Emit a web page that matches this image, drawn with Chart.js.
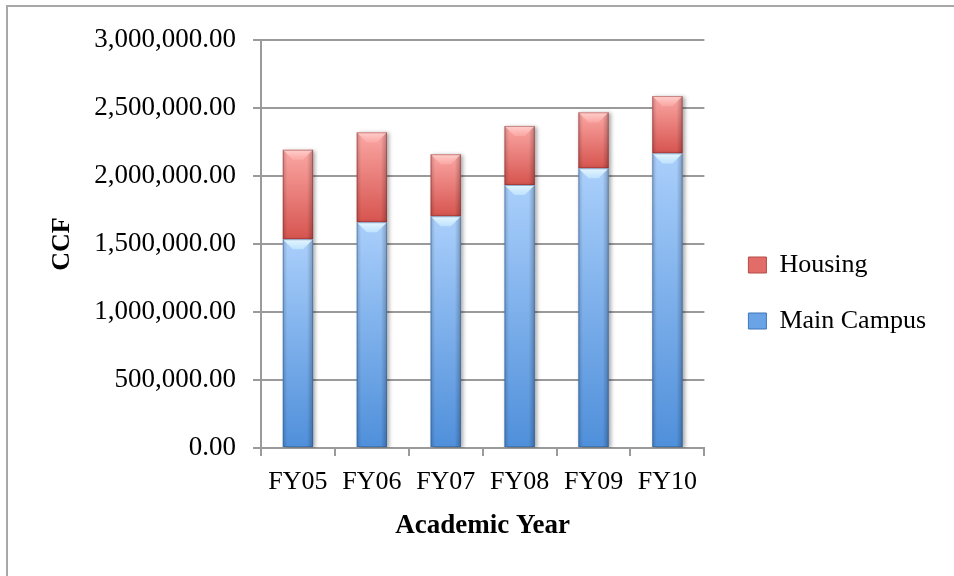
<!DOCTYPE html>
<html lang="en">
<head>
  <meta charset="UTF-8">
  <title>CCF by Academic Year</title>
  <script src="https://cdn.jsdelivr.net/npm/chart.js"></script>
  <style>
    html, body {
      margin: 0;
      padding: 0;
      background: #fff;
      overflow: hidden;
    }
    #frame {
      position: absolute;
      left: 6px;
      top: 5px;
      width: 2000px;
      height: 2000px;
      border-top: 2px solid #a8a8a8;
      border-left: 2px solid #a8a8a8;
    }
    #wrap {
      position: absolute;
      left: 0;
      top: 0;
      width: 954px;
      height: 576px;
    }
  </style>
</head>
<body>
  <div id="frame"></div>
  <div id="wrap"><canvas id="grafico"></canvas></div>

  <script>
    const categories = ['FY05', 'FY06', 'FY07', 'FY08', 'FY09', 'FY10'];
    const mainCampus = [1535000, 1660000, 1704000, 1934000, 2057000, 2167000];
    const housing = [658000, 661000, 456000, 434000, 411000, 421000];
    const yTickLabels = ['0.00', '500,000.00', '1,000,000.00', '1,500,000.00',
                         '2,000,000.00', '2,500,000.00', '3,000,000.00'];

    const serif = "'Liberation Serif', 'DejaVu Serif', serif";

    // vertical gradient for each bar segment, built from the y scale
    function barFill(top, bottom) {
      return function (c) {
        const chart = c.chart;
        const y = chart.scales.y;
        if (!y || !chart.chartArea || c.type !== 'data') return bottom;
        const i = c.dataIndex;
        let lo = 0, hi = mainCampus[i];
        if (c.datasetIndex === 1) { lo = mainCampus[i]; hi = lo + housing[i]; }
        const y0 = y.getPixelForValue(lo), y1 = y.getPixelForValue(hi);
        if (!isFinite(y0) || !isFinite(y1) || y0 === y1) return bottom;
        const g = chart.ctx.createLinearGradient(0, y1, 0, y0);
        g.addColorStop(0, top);
        g.addColorStop(1, bottom);
        return g;
      };
    }

    // shadow under the bars and bevel highlights on top of them
    const bevelPlugin = {
      id: 'bevel',
      beforeDatasetsDraw(chart) {
        const ctx = chart.ctx;
        ctx.save();
        ctx.shadowColor = 'rgba(0,0,0,0.35)';
        ctx.shadowBlur = 4;
        ctx.shadowOffsetX = 2;
        ctx.shadowOffsetY = 1;
      },
      afterDatasetsDraw(chart) {
        const ctx = chart.ctx;
        ctx.restore();
        chart.data.datasets.forEach((ds, di) => {
          const meta = chart.getDatasetMeta(di);
          meta.data.forEach(el => {
            const p = el.getProps(['x', 'y', 'base', 'width'], true);
            const l = p.x - p.width / 2, r = p.x + p.width / 2;
            const t = Math.min(p.y, p.base), b = Math.max(p.y, p.base);
            const h = b - t;
            const d = Math.min(p.width / 3, h / 2);
            ctx.save();
            // side shading
            let g = ctx.createLinearGradient(l, 0, r, 0);
            g.addColorStop(0, 'rgba(0,0,0,0.18)');
            g.addColorStop(0.15, 'rgba(0,0,0,0)');
            g.addColorStop(0.8, 'rgba(0,0,0,0)');
            g.addColorStop(1, 'rgba(0,0,0,0.25)');
            ctx.fillStyle = g;
            ctx.fillRect(l, t, r - l, h);
            // top bevel
            ctx.beginPath();
            ctx.moveTo(l, t);
            ctx.lineTo(r, t);
            ctx.lineTo(r - d, t + d);
            ctx.lineTo(l + d, t + d);
            ctx.closePath();
            g = ctx.createLinearGradient(0, t, 0, t + d);
            if (di === 0) {
              g.addColorStop(0, 'rgba(235,250,255,0.95)');
              g.addColorStop(1, 'rgba(200,235,255,0.7)');
            } else {
              g.addColorStop(0, 'rgba(255,215,212,0.9)');
              g.addColorStop(1, 'rgba(255,180,176,0.5)');
            }
            ctx.fillStyle = g;
            ctx.fill();
            // outline
            ctx.strokeStyle = di === 0 ? 'rgba(40,90,150,0.45)' : 'rgba(140,40,40,0.45)';
            ctx.lineWidth = 1;
            ctx.strokeRect(l + 0.5, t + 0.5, r - l - 1, h - 1);
            ctx.restore();
          });
        });
      }
    };

    const legendColors = ['#6aa3e6', '#e26c68'];

    new Chart(document.getElementById('grafico'), {
      type: 'bar',
      data: {
        labels: categories,
        datasets: [
          {
            label: 'Main Campus',
            data: mainCampus,
            backgroundColor: barFill('#aacffb', '#4f8fda'),
            barPercentage: 0.41,
            categoryPercentage: 1
          },
          {
            label: 'Housing',
            data: housing,
            backgroundColor: barFill('#fba7a4', '#d6544f'),
            barPercentage: 0.41,
            categoryPercentage: 1
          }
        ]
      },
      options: {
        responsive: true,
        maintainAspectRatio: false,
        animation: false,
        layout: { padding: { left: 45, top: 40, bottom: 30, right: 18 } },
        plugins: {
          tooltip: { enabled: false },
          legend: {
            position: 'right',
            reverse: true,
            maxWidth: 240,
            labels: {
              color: '#000',
              font: { family: serif, size: 26 },
              boxWidth: 18,
              boxHeight: 16,
              padding: 30,
              generateLabels(chart) {
                return chart.data.datasets.map((ds, i) => ({
                  text: ds.label,
                  fillStyle: legendColors[i],
                  strokeStyle: i === 0 ? '#3f77b8' : '#b44a46',
                  lineWidth: 1,
                  datasetIndex: i,
                  hidden: false
                }));
              }
            }
          }
        },
        scales: {
          x: {
            stacked: true,
            grid: { drawOnChartArea: false, color: '#9a9a9a', lineWidth: 2, tickLength: 8 },
            border: { color: '#9a9a9a', width: 2 },
            ticks: { color: '#000', font: { family: serif, size: 26 }, padding: 11, maxRotation: 0 },
            title: {
              display: true,
              text: 'Academic Year',
              color: '#000',
              font: { family: serif, size: 27, weight: 'bold' },
              padding: { top: 4, bottom: 4 }
            },
            afterFit(s) { s.height = 98; }
          },
          y: {
            stacked: true,
            min: 0,
            max: 3000000,
            grid: { color: '#9a9a9a', lineWidth: 2, tickLength: 8 },
            border: { color: '#9a9a9a', width: 2 },
            ticks: {
              stepSize: 500000,
              color: '#000',
              font: { family: serif, size: 27 },
              padding: 17,
              callback: (v, i) => yTickLabels[i]
            },
            title: {
              display: true,
              text: 'CCF',
              color: '#000',
              font: { family: serif, size: 26, weight: 'bold' },
              padding: { top: 2, bottom: 2 }
            },
            afterFit(s) { s.width = 216; }
          },
          gap: {
            type: 'linear',
            position: 'right',
            display: true,
            grid: { display: false },
            border: { display: false },
            ticks: { display: false },
            afterFit(s) { s.width = 14; }
          }
        }
      },
      plugins: [bevelPlugin]
    });
  </script>
</body>
</html>
